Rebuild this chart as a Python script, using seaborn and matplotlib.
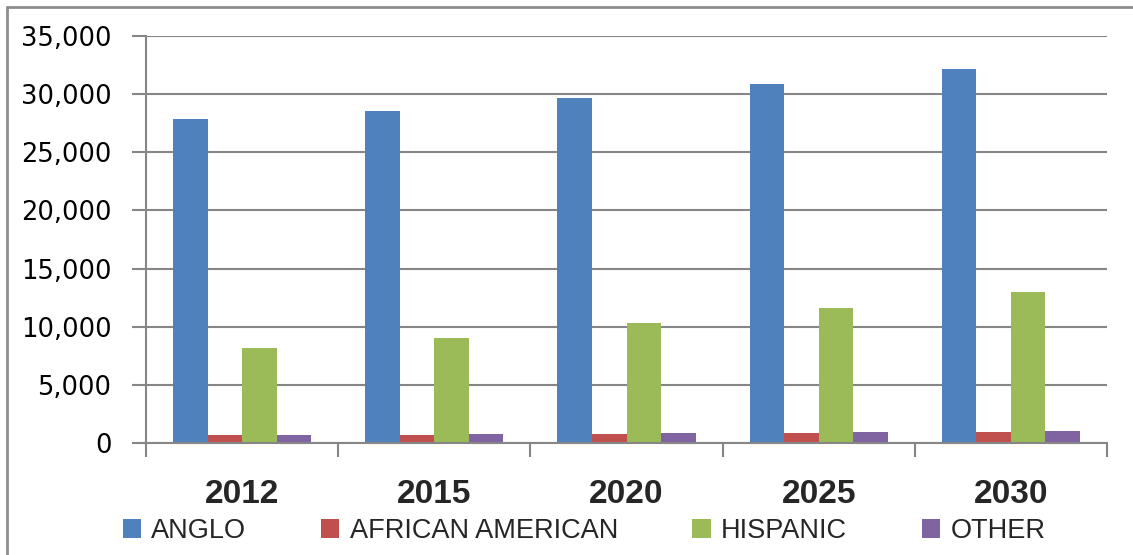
import matplotlib
matplotlib.use("Agg")
import matplotlib.pyplot as plt
import seaborn as sns
import pandas as pd
from matplotlib.lines import Line2D
from matplotlib.ticker import FuncFormatter, MultipleLocator

years = ["2012", "2015", "2020", "2025", "2030"]
groups = ["ANGLO", "AFRICAN AMERICAN", "HISPANIC", "OTHER"]
anglo = [27850, 28550, 29650, 30870, 32150]
african_american = [660, 715, 775, 890, 945]
hispanic = [8200, 9000, 10330, 11650, 12950]
other = [720, 800, 830, 975, 1060]
colors = ["#4F81BD", "#C0504D", "#9BBB59", "#8064A2"]

rows = []
for name, vals in zip(groups, [anglo, african_american, hispanic, other]):
    for y, v in zip(years, vals):
        rows.append({"year": y, "group": name, "value": v})
df = pd.DataFrame(rows)

sns.set_style("white")
plt.rcParams['font.family'] = ['DejaVu Sans']

fig = plt.figure(figsize=(11.33, 5.55), dpi=100)
ax = fig.add_axes([146/1133, 1-443/555, (1107-146)/1133, (443-36)/555])

sns.barplot(data=df, x="year", y="value", hue="group", order=years,
            hue_order=groups, palette=colors, width=0.72, ax=ax,
            linewidth=0, saturation=1, errorbar=None)

gray = "#868686"
ax.set_ylim(0, 35000)
ax.set_xlim(-0.5, 4.5)
ax.yaxis.set_major_locator(MultipleLocator(5000))
ax.yaxis.set_major_formatter(FuncFormatter(lambda v, p: f"{int(v):,}"))
ax.grid(axis="y", color=gray, linewidth=1.5)
ax.set_axisbelow(True)
for s in ["top", "right"]:
    ax.spines[s].set_visible(False)
for s in ["left", "bottom"]:
    ax.spines[s].set_color(gray)
    ax.spines[s].set_linewidth(1.5)
ax.set_xlabel("")
ax.set_ylabel("")

ax.tick_params(axis="y", direction="out", length=10, width=1.5, color=gray,
               labelsize=18.5, labelcolor="black", pad=15, left=True)
# x ticks at group boundaries
ax.set_xticks([-0.5, 0.5, 1.5, 2.5, 3.5, 4.5], minor=True)
ax.tick_params(axis="x", which="minor", direction="out", length=10, width=1.5,
               color=gray, bottom=True)
ax.tick_params(axis="x", which="major", length=0, pad=26)
for lbl in ax.get_xticklabels():
    lbl.set_fontfamily("Liberation Sans")
    lbl.set_fontweight("bold")
    lbl.set_fontsize(24)

handles, labels = ax.get_legend_handles_labels()
ax.get_legend().remove()
leg = fig.legend(handles, labels, loc="center", ncol=4,
                 bbox_to_anchor=(584/1133, 1-531/555), frameon=False,
                 prop={"family": "Liberation Sans", "size": 19.5},
                 handlelength=0.68, handleheight=0.68, handletextpad=0.38,
                 columnspacing=2.75, borderaxespad=0)
for h in leg.legend_handles:
    h.set_edgecolor("none")

# outer chart border (left and top visible)
fig.add_artist(Line2D([7/1133, 7/1133], [0, 1-7/555], color="#8E8E8E",
                      linewidth=2, transform=fig.transFigure))
fig.add_artist(Line2D([7/1133, 1], [1-7/555, 1-7/555], color="#8E8E8E",
                      linewidth=2, transform=fig.transFigure))

fig.savefig("out.png", dpi=100)
